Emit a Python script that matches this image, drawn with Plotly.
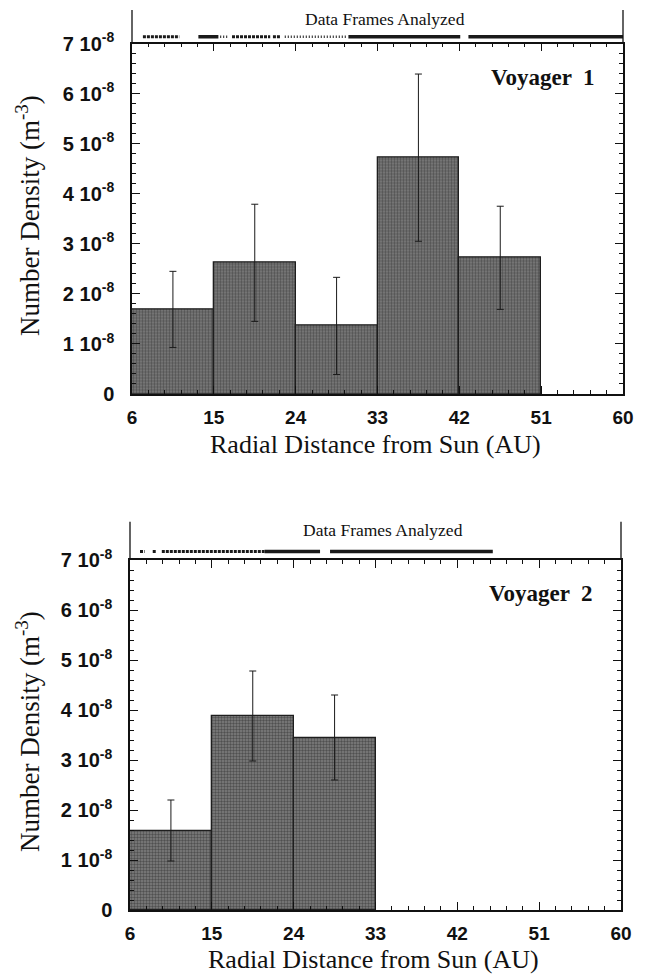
import plotly.graph_objects as go

# ---------------- data ----------------
bin_edges_v1 = [6, 15, 24, 33, 42, 51]
density_v1 = [1.69e-8, 2.62e-8, 1.36e-8, 4.72e-8, 2.72e-8]
err_v1 = [0.76e-8, 1.17e-8, 0.97e-8, 1.67e-8, 1.03e-8]

bin_edges_v2 = [6, 15, 24, 33]
density_v2 = [1.59e-8, 3.88e-8, 3.45e-8]
err_v2 = [0.61e-8, 0.90e-8, 0.85e-8]

# data frames analyzed (AU ranges) and how densely they are packed
frames_v1_start = [7.2, 9.4, 13.3, 15.7, 17.0, 21.5, 22.8, 29.8, 43.0]
frames_v1_end = [9.3, 11.2, 15.5, 16.5, 21.2, 22.3, 29.7, 42.1, 60.0]
frames_v1_kind = ["medium", "medium", "dense", "sparse", "medium", "medium", "sparse", "dense", "dense"]

frames_v2_start = [7.1, 8.5, 9.5, 20.8, 28.0]
frames_v2_end = [7.6, 8.9, 20.8, 26.9, 45.9]
frames_v2_kind = ["medium", "medium", "medium", "dense", "dense"]

x_tick_vals = [6, 15, 24, 33, 42, 51, 60]
y_tick_vals = [0, 1e-8, 2e-8, 3e-8, 4e-8, 5e-8, 6e-8, 7e-8]
y_tick_text = ["0"] + [f"{k} 10<sup>-8</sup>" for k in range(1, 8)]

labels = ["Voyager  1", "Voyager  2"]
x_title = "Radial Distance from Sun (AU)"
y_title = "Number Density (m<sup>-3</sup>)"
strip_title = "Data Frames Analyzed"

# ---------------- layout helpers ----------------
# the page places the figure 8px from the top-left corner of the 648x974 window
OFF = 8
W, H = 648 - OFF, 974 - OFF
def fx(p):
    return (p - OFF) / W
def fy(p):
    return 1 - (p - OFF) / H

SERIF = "Liberation Serif, Times New Roman, serif"
SANS = "Liberation Sans, Arial, sans-serif"

panels = [
    dict(edges=bin_edges_v1, vals=density_v1, errs=err_v1,
         fs=frames_v1_start, fe=frames_v1_end, fk=frames_v1_kind,
         left=132, right=623, top=43.5, bottom=394, strip_top=10, mark_row=0.2,
         label=labels[0], lab_x=543, lab_y=78, st_x=385, st_y=8.3, xt_x=375, xt_y=444,
         yt_y=216, xa="x", ya="y", ys="y3"),
    dict(edges=bin_edges_v2, vals=density_v2, errs=err_v2,
         fs=frames_v2_start, fe=frames_v2_end, fk=frames_v2_kind,
         left=130, right=621, top=560, bottom=910, strip_top=521.7, mark_row=0.22,
         label=labels[1], lab_x=541, lab_y=593, st_x=383, st_y=519, xt_x=373, xt_y=959,
         yt_y=732, xa="x2", ya="y2", ys="y4"),
]

styles = {
    "dense": dict(width=3.5, dash="solid"),
    "medium": dict(width=3, dash="3px,1px"),
    "sparse": dict(width=2.5, dash="1px,2px"),
}

fig = go.Figure()
layout = {}
shapes = []
annotations = []

for i, p in enumerate(panels):
    edges = p["edges"]
    centers = [(a + b) / 2 for a, b in zip(edges[:-1], edges[1:])]
    widths = [b - a for a, b in zip(edges[:-1], edges[1:])]
    fig.add_trace(go.Bar(
        x=centers, y=p["vals"], width=widths,
        xaxis=p["xa"], yaxis=p["ya"],
        marker=dict(color="#7f7f7f",
                    line=dict(color="#1e1e1e", width=1.3),
                    pattern=dict(shape=".", fillmode="overlay", fgcolor="#222222",
                                 size=3, solidity=0.5)),
        error_y=dict(type="data", array=p["errs"], symmetric=True,
                     color="#1a1a1a", thickness=1, width=3.5),
        showlegend=False, hoverinfo="skip",
    ))
    for s, e, k in zip(p["fs"], p["fe"], p["fk"]):
        fig.add_trace(go.Scatter(
            x=[s, e], y=[p["mark_row"], p["mark_row"]], mode="lines",
            line=dict(color="#1a1a1a", **styles[k]),
            xaxis=p["xa"], yaxis=p["ys"], showlegend=False, hoverinfo="skip",
        ))

    xkey = "xaxis" if i == 0 else "xaxis2"
    ykey = "yaxis" if i == 0 else "yaxis2"
    skey = "yaxis3" if i == 0 else "yaxis4"
    layout[xkey] = dict(
        domain=[fx(p["left"]), fx(p["right"])], anchor=p["ya"], range=[6, 60],
        tickmode="array", tickvals=x_tick_vals, automargin=False,
        ticks="inside", ticklen=8, tickwidth=1.2, tickcolor="#111",
        showline=True, linecolor="#111", linewidth=1.5, mirror="ticks",
        showgrid=False, zeroline=False,
        tickfont=dict(family=SANS, size=19, color="#111", weight="bold"),
        ticklabelstandoff=5,
        minor=dict(dtick=1.8, tick0=6, ticks="inside", ticklen=4, tickwidth=1,
                   tickcolor="#111", showgrid=False),
    )
    layout[ykey] = dict(
        domain=[fy(p["bottom"]), fy(p["top"])], anchor=p["xa"], range=[0, 7e-8],
        tickmode="array", tickvals=y_tick_vals, ticktext=y_tick_text, automargin=False,
        ticks="inside", ticklen=8, tickwidth=1.2, tickcolor="#111",
        showline=True, linecolor="#111", linewidth=1.5, mirror="ticks",
        showgrid=False, zeroline=False,
        tickfont=dict(family=SANS, size=20, color="#111", weight="bold"),
        ticklabelstandoff=12,
        minor=dict(dtick=2e-9, tick0=0, ticks="inside", ticklen=4, tickwidth=1,
                   tickcolor="#111", showgrid=False),
    )
    layout[skey] = dict(domain=[fy(p["top"]), fy(p["strip_top"])], anchor=p["xa"],
                        range=[0, 1], visible=False, automargin=False)

    for xp in (p["left"], p["right"]):
        shapes.append(dict(type="line", xref="paper", yref="paper",
                           x0=fx(xp), x1=fx(xp), y0=fy(p["top"]), y1=fy(p["strip_top"]),
                           line=dict(color="#111", width=1.3)))

    annotations += [
        dict(text=strip_title, x=fx(p["st_x"]), y=fy(p["st_y"]), xref="paper", yref="paper",
             showarrow=False, xanchor="center", yanchor="top", borderpad=0,
             font=dict(family=SERIF, size=17.5, color="#111")),
        dict(text=p["label"], x=fx(p["lab_x"]), y=fy(p["lab_y"]), xref="paper", yref="paper",
             showarrow=False, xanchor="center", yanchor="middle",
             font=dict(family=SERIF, size=23, color="#111", weight="bold")),
        dict(text=x_title, x=fx(p["xt_x"]), y=fy(p["xt_y"]), xref="paper", yref="paper",
             showarrow=False, xanchor="center", yanchor="middle",
             font=dict(family=SERIF, size=26, color="#111")),
        dict(text=y_title, x=fx(28), y=fy(p["yt_y"]), xref="paper", yref="paper",
             showarrow=False, xanchor="center", yanchor="middle", textangle=-90,
             font=dict(family=SERIF, size=27, color="#111")),
    ]

fig.update_layout(
    width=W, height=H, margin=dict(l=0, r=0, t=0, b=0, autoexpand=False),
    paper_bgcolor="white", plot_bgcolor="white",
    bargap=0, shapes=shapes, annotations=annotations, showlegend=False,
    **layout,
)

fig.write_html("out.html")
